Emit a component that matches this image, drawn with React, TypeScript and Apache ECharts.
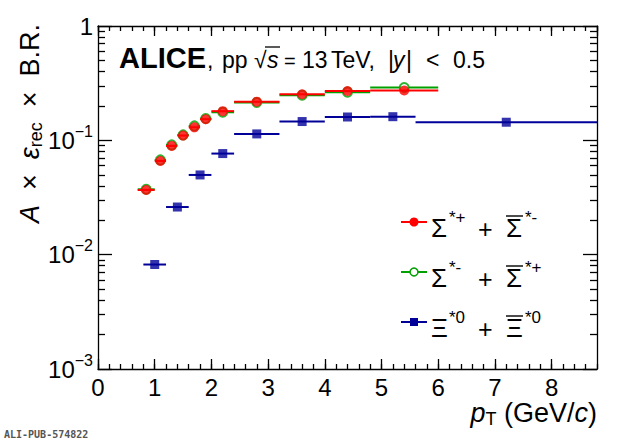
import React, { useEffect, useRef } from "react";
import * as echarts from "echarts";

const FONT = "'Liberation Sans', Arial, Helvetica, sans-serif";

// Σ*+ + anti-Σ*-  (bins in pT, GeV/c)
const sigmaPt = [0.85, 1.1, 1.3, 1.5, 1.7, 1.9, 2.2, 2.8, 3.6, 4.4, 5.4];
const sigmaPtLow = [0.7, 1.0, 1.2, 1.4, 1.6, 1.8, 2.0, 2.4, 3.2, 4.0, 4.8];
const sigmaPtHigh = [1.0, 1.2, 1.4, 1.6, 1.8, 2.0, 2.4, 3.2, 4.0, 4.8, 6.0];
const sigmaPlusVals = [0.0368, 0.066, 0.0893, 0.110, 0.130, 0.153, 0.180, 0.218, 0.253, 0.270, 0.273];
const sigmaMinusVals = [0.0373, 0.0674, 0.0912, 0.1115, 0.1337, 0.155, 0.176, 0.214, 0.248, 0.264, 0.290];

// Ξ*0 + anti-Ξ*0
const xiPt = [1.0, 1.4, 1.8, 2.2, 2.8, 3.6, 4.4, 5.2, 7.2];
const xiPtLow = [0.8, 1.2, 1.6, 2.0, 2.4, 3.2, 4.0, 4.8, 5.6];
const xiPtHigh = [1.2, 1.6, 2.0, 2.4, 3.2, 4.0, 4.8, 5.6, 8.8];
const xiVals = [0.0082, 0.0261, 0.0498, 0.0766, 0.1138, 0.146, 0.160, 0.161, 0.144];

const xTickLabels = ["0", "1", "2", "3", "4", "5", "6", "7", "8"];
const yTickLabels: Record<string, string> = {
  "-3": "10{sup|\u22123}",
  "-2": "10{sup|\u22122}",
  "-1": "10{sup|\u22121}",
  "0": "1",
};
// minor tick multipliers inside each decade of the log axis
const yMinorMultipliers = [2, 3, 4, 5, 6, 7, 8, 9];
const yDecades = [-3, -2, -1];

const X_MIN = 0;
const X_MAX = 8.8;
const Y_MIN = 0.001;
const Y_MAX = 1;

const RED = "#ff0000";
const GREEN = "#00a000";
const BLUE = "#000099";

function barSeries(lo: number[], hi: number[], vals: number[], color: string, z: number) {
  return {
    type: "custom",
    z,
    clip: true,
    silent: true,
    xAxisIndex: 0,
    yAxisIndex: 0,
    data: vals.map((v, i) => [lo[i], hi[i], v]),
    encode: { x: [0, 1], y: 2 },
    renderItem: (_p: any, api: any) => {
      const a = api.coord([api.value(0), api.value(2)]);
      const b = api.coord([api.value(1), api.value(2)]);
      return {
        type: "line",
        shape: { x1: a[0], y1: a[1], x2: b[0], y2: b[1] },
        style: { stroke: color, lineWidth: 2 },
      };
    },
  };
}

function txt(text: string, x: number, y: number, size: number, extra: any = {}) {
  return {
    type: "text",
    x,
    y,
    z: 10,
    style: {
      text,
      fill: "#000",
      fontSize: size,
      fontFamily: FONT,
      align: "left",
      verticalAlign: "middle",
      ...extra,
    },
  };
}

function seg(x1: number, y1: number, x2: number, y2: number, color = "#000", w = 1.3) {
  return {
    type: "line",
    z: 10,
    shape: { x1, y1, x2, y2 },
    style: { stroke: color, lineWidth: w },
  };
}

function legendEntry(y: number, color: string, kind: "dot" | "open" | "sq", base: string, sup1: string, sup2: string) {
  const els: any[] = [];
  els.push(seg(401, y, 427, y, color, 2));
  if (kind === "dot") {
    els.push({ type: "circle", z: 11, shape: { cx: 414, cy: y, r: 4.5 }, style: { fill: color } });
  } else if (kind === "open") {
    els.push({ type: "circle", z: 11, shape: { cx: 414, cy: y, r: 4 }, style: { fill: "#fff", stroke: color, lineWidth: 1.5 } });
  } else {
    els.push({ type: "rect", z: 11, shape: { x: 410, y: y - 4, width: 8, height: 8 }, style: { fill: color } });
  }
  els.push(txt(base, 431, y + 6, 26));
  els.push(txt(sup1, 449, y - 5, 17));
  els.push(txt("+", 478, y + 7, 25));
  els.push(txt(base, 506, y + 6, 26));
  els.push(seg(506, y - 6, 523, y - 6, "#000", 1.4));
  els.push(txt(sup2, 525, y - 5, 17));
  return els;
}

const TICK_STYLE = { color: "#000", width: 1.3 };

function tickAxisX(position: "top" | "bottom", interval: number, len: number, labels: boolean, line: boolean) {
  return {
    type: "value",
    position,
    min: X_MIN,
    max: X_MAX,
    interval,
    z: 20,
    axisLine: { show: line, onZero: false, lineStyle: { color: "#000", width: 1.3 } },
    splitLine: { show: false },
    axisTick: { show: true, inside: true, length: len, lineStyle: { ...TICK_STYLE } },
    axisLabel: labels
      ? {
          color: "#000",
          fontSize: 24,
          fontFamily: FONT,
          margin: 6,
          showMaxLabel: false,
          formatter: (v: number) => {
            const i = Math.round(v);
            return Math.abs(v - i) < 1e-6 && xTickLabels[i] !== undefined ? xTickLabels[i] : "";
          },
        }
      : { show: false },
  };
}

function logAxisY(position: "left" | "right", labels: boolean) {
  return {
    type: "log",
    logBase: 10,
    position,
    min: Y_MIN,
    max: Y_MAX,
    z: 20,
    axisLine: { show: true, onZero: false, lineStyle: { color: "#000", width: 1.3 } },
    splitLine: { show: false },
    axisTick: { show: true, inside: true, length: 14, lineStyle: { ...TICK_STYLE } },
    axisLabel: labels
      ? {
          color: "#000",
          fontSize: 24,
          fontFamily: FONT,
          margin: 5,
          formatter: (v: number) => {
            const e = Math.round(Math.log10(v));
            return yTickLabels[String(e)] ?? "";
          },
          rich: {
            sup: { fontSize: 16, fontFamily: FONT, color: "#000", padding: [0, 0, 18, 0] },
          },
        }
      : { show: false },
  };
}

// exponent-space axis used only to place the log minor ticks (2..9 x 10^k)
function minorAxisY(position: "left" | "right") {
  const vals: number[] = [];
  yDecades.forEach((e) => yMinorMultipliers.forEach((m) => vals.push(Math.log10(m) + e)));
  return {
    type: "value",
    position,
    min: Math.log10(Y_MIN),
    max: Math.log10(Y_MAX),
    z: 20,
    axisLine: { show: false, onZero: false },
    splitLine: { show: false },
    axisTick: { show: true, inside: true, length: 7, lineStyle: { ...TICK_STYLE }, customValues: vals },
    axisLabel: { show: false, customValues: vals },
  };
}

export default function App() {
  const ref = useRef<HTMLDivElement>(null);

  useEffect(() => {
    document.body.style.margin = "0";
    if (!ref.current) return;
    const chart = echarts.init(ref.current, undefined, { renderer: "svg" });

    const graphics: any[] = [
      txt("ALICE", 119, 58, 29, { fontWeight: "bold" }),
      txt(",", 207, 60, 23),
      txt("pp", 222, 60, 23),
      txt("\u221A", 254, 60, 23),
      txt("s", 267, 60, 23, { fontStyle: "italic" }),
      seg(265, 47, 280, 47),
      txt("=", 284, 61, 20),
      txt("13", 302, 60, 23),
      txt("TeV,", 331, 60, 23),
      txt("|", 388, 60, 23),
      txt("y", 393, 60, 23, { fontStyle: "italic" }),
      txt("|", 406, 60, 23),
      txt("<", 426, 60, 23),
      txt("0.5", 453, 60, 23),
      ...legendEntry(222, RED, "dot", "\u03A3", "*+", "*-"),
      ...legendEntry(272, GREEN, "open", "\u03A3", "*-", "*+"),
      ...legendEntry(322, BLUE, "sq", "\u039E", "*0", "*0"),
      {
        type: "text",
        x: 30,
        y: 24,
        rotation: Math.PI / 2,
        z: 10,
        style: {
          text: "{i|A}  \u00D7  {i|\u03B5}{sub|rec}  \u00D7  B.R.",
          fill: "#000",
          fontSize: 27,
          fontFamily: FONT,
          align: "right",
          verticalAlign: "middle",
          rich: {
            i: { fontStyle: "italic", fontSize: 27, fontFamily: FONT },
            sub: { fontSize: 18, fontFamily: FONT, padding: [12, 0, 0, 0] },
          },
        },
      },
      {
        type: "text",
        x: 597,
        y: 413,
        z: 10,
        style: {
          text: "{i|p}{sub|T} (GeV/{i|c})",
          fill: "#000",
          fontSize: 27,
          fontFamily: FONT,
          align: "right",
          verticalAlign: "middle",
          rich: {
            i: { fontStyle: "italic", fontSize: 27, fontFamily: FONT },
            sub: { fontSize: 18, fontFamily: FONT, padding: [12, 0, 0, 0] },
          },
        },
      },
      {
        type: "text",
        x: 4,
        y: 434,
        z: 10,
        style: {
          text: "ALI-PUB-574822",
          fill: "#555",
          fontSize: 10,
          fontWeight: "bold",
          fontFamily: "'DejaVu Sans Mono', monospace",
          align: "left",
          verticalAlign: "middle",
        },
      },
    ];

    const option: any = {
      animation: false,
      backgroundColor: "#fff",
      grid: {
        left: 98,
        right: 23,
        top: 26,
        bottom: 73,
        show: false,
      },
      xAxis: [
        tickAxisX("bottom", 1, 10, true, true),
        tickAxisX("bottom", 0.2, 5, false, false),
        tickAxisX("top", 1, 10, false, true),
        tickAxisX("top", 0.2, 5, false, false),
      ],
      yAxis: [logAxisY("left", true), minorAxisY("left"), logAxisY("right", false), minorAxisY("right")],
      series: [
        barSeries(sigmaPtLow, sigmaPtHigh, sigmaMinusVals, GREEN, 6),
        {
          type: "scatter",
          z: 7,
          xAxisIndex: 0,
          yAxisIndex: 0,
          symbol: "emptyCircle",
          symbolSize: 9,
          itemStyle: { color: GREEN, borderColor: GREEN, borderWidth: 1.5 },
          data: sigmaPt.map((x, i) => [x, sigmaMinusVals[i]]),
        },
        barSeries(sigmaPtLow, sigmaPtHigh, sigmaPlusVals, RED, 8),
        {
          type: "scatter",
          z: 9,
          xAxisIndex: 0,
          yAxisIndex: 0,
          symbol: "circle",
          symbolSize: 10,
          itemStyle: { color: RED },
          data: sigmaPt.map((x, i) => [x, sigmaPlusVals[i]]),
        },
        barSeries(xiPtLow, xiPtHigh, xiVals, BLUE, 10),
        {
          type: "scatter",
          z: 11,
          xAxisIndex: 0,
          yAxisIndex: 0,
          symbol: "rect",
          symbolSize: 9,
          itemStyle: { color: BLUE },
          data: xiPt.map((x, i) => [x, xiVals[i]]),
        },
      ],
      graphic: graphics,
    };

    chart.setOption(option);
    return () => chart.dispose();
  }, []);

  return <div ref={ref} style={{ width: 620, height: 442 }} />;
}
